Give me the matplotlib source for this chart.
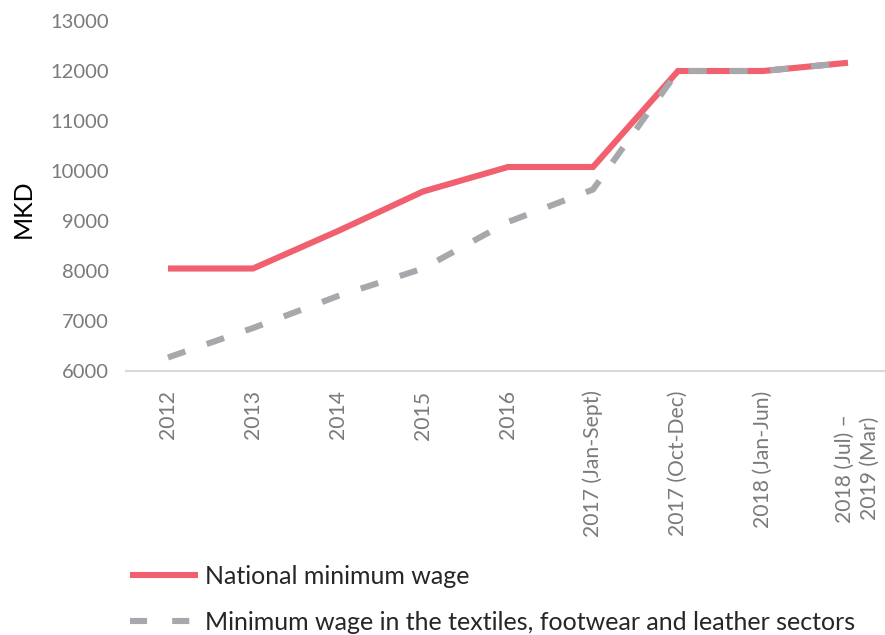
import matplotlib
matplotlib.use("Agg")
import matplotlib.pyplot as plt
import matplotlib.transforms as mtransforms
from matplotlib.lines import Line2D

categories = ["2012", "2013", "2014", "2015", "2016", "2017 (Jan-Sept)",
              "2017 (Oct-Dec)", "2018 (Jan-Jun)", "2018 (Jul) –\n2019 (Mar)"]
national = [8050, 8050, 8800, 9590, 10080, 10080, 12000, 12000, 12165]
textiles = [6270, 6860, 7500, 8050, 8980, 9630, 12000, 12000, 12165]
yticks = [6000, 7000, 8000, 9000, 10000, 11000, 12000, 13000]
legend_labels = ["National minimum wage",
                 "Minimum wage in the textiles, footwear and leather sectors"]

RED = "#F0606E"
GRAY = "#A7A8AB"
TICK = "#7A7A7A"

plt.rcParams['font.family'] = ['Lato', 'DejaVu Sans']

W, H = 885, 635
fig = plt.figure(figsize=(W / 100, H / 100), dpi=100)
left, right = 125.5, 890.5
top, bottom = 21, 371
ax = fig.add_axes([left / W, 1 - bottom / H, (right - left) / W, (bottom - top) / H])

x = list(range(len(categories)))
ax.plot(x, national, color=RED, lw=4.4, solid_capstyle='butt', solid_joinstyle='miter')
ax.plot(x, textiles, color=GRAY, lw=4.4, dashes=(3.0, 3.7), dash_capstyle='butt')

ax.set_xlim(-0.5, len(categories) - 0.5)
ax.set_ylim(6000, 13000)
ax.set_yticks(yticks)
ax.set_yticklabels([str(v) for v in yticks])
ax.set_xticks(x)
ax.set_xticklabels(categories, rotation=90, va='top', ha='center', linespacing=1.3)

ax.tick_params(axis='both', length=0, labelcolor=TICK)
ax.tick_params(axis='y', pad=12, labelsize=14.5)
ax.tick_params(axis='x', pad=14, labelsize=15.2)

# the two-line last label sits lower and a little to the right
last_tick = ax.xaxis.get_major_ticks()[-1]
last_tick.set_pad(31)
lab = last_tick.label1
lab.set_transform(lab.get_transform() +
                  mtransforms.ScaledTranslation(9 / 100, 0, fig.dpi_scale_trans))

for s in ['left', 'right', 'top']:
    ax.spines[s].set_visible(False)
ax.spines['bottom'].set_color('#D9D9D9')
ax.spines['bottom'].set_linewidth(1.5)

ax.set_ylabel("MKD", fontsize=18, color='black', labelpad=11, y=0.465)

handles = [Line2D([], [], color=RED, lw=4.4, solid_capstyle='butt'),
           Line2D([], [], color=GRAY, lw=4.4, dashes=(2.8, 4.1), dash_capstyle='butt')]
leg = fig.legend(handles, legend_labels,
                 loc='upper left', bbox_to_anchor=(130 / W, 1 - 565 / H),
                 frameon=False, fontsize=18, handlelength=2.7, handletextpad=0.3,
                 labelspacing=0.9, borderaxespad=0, borderpad=0)
for t in leg.get_texts():
    t.set_color('#262626')

fig.savefig("out.png", dpi=100)
